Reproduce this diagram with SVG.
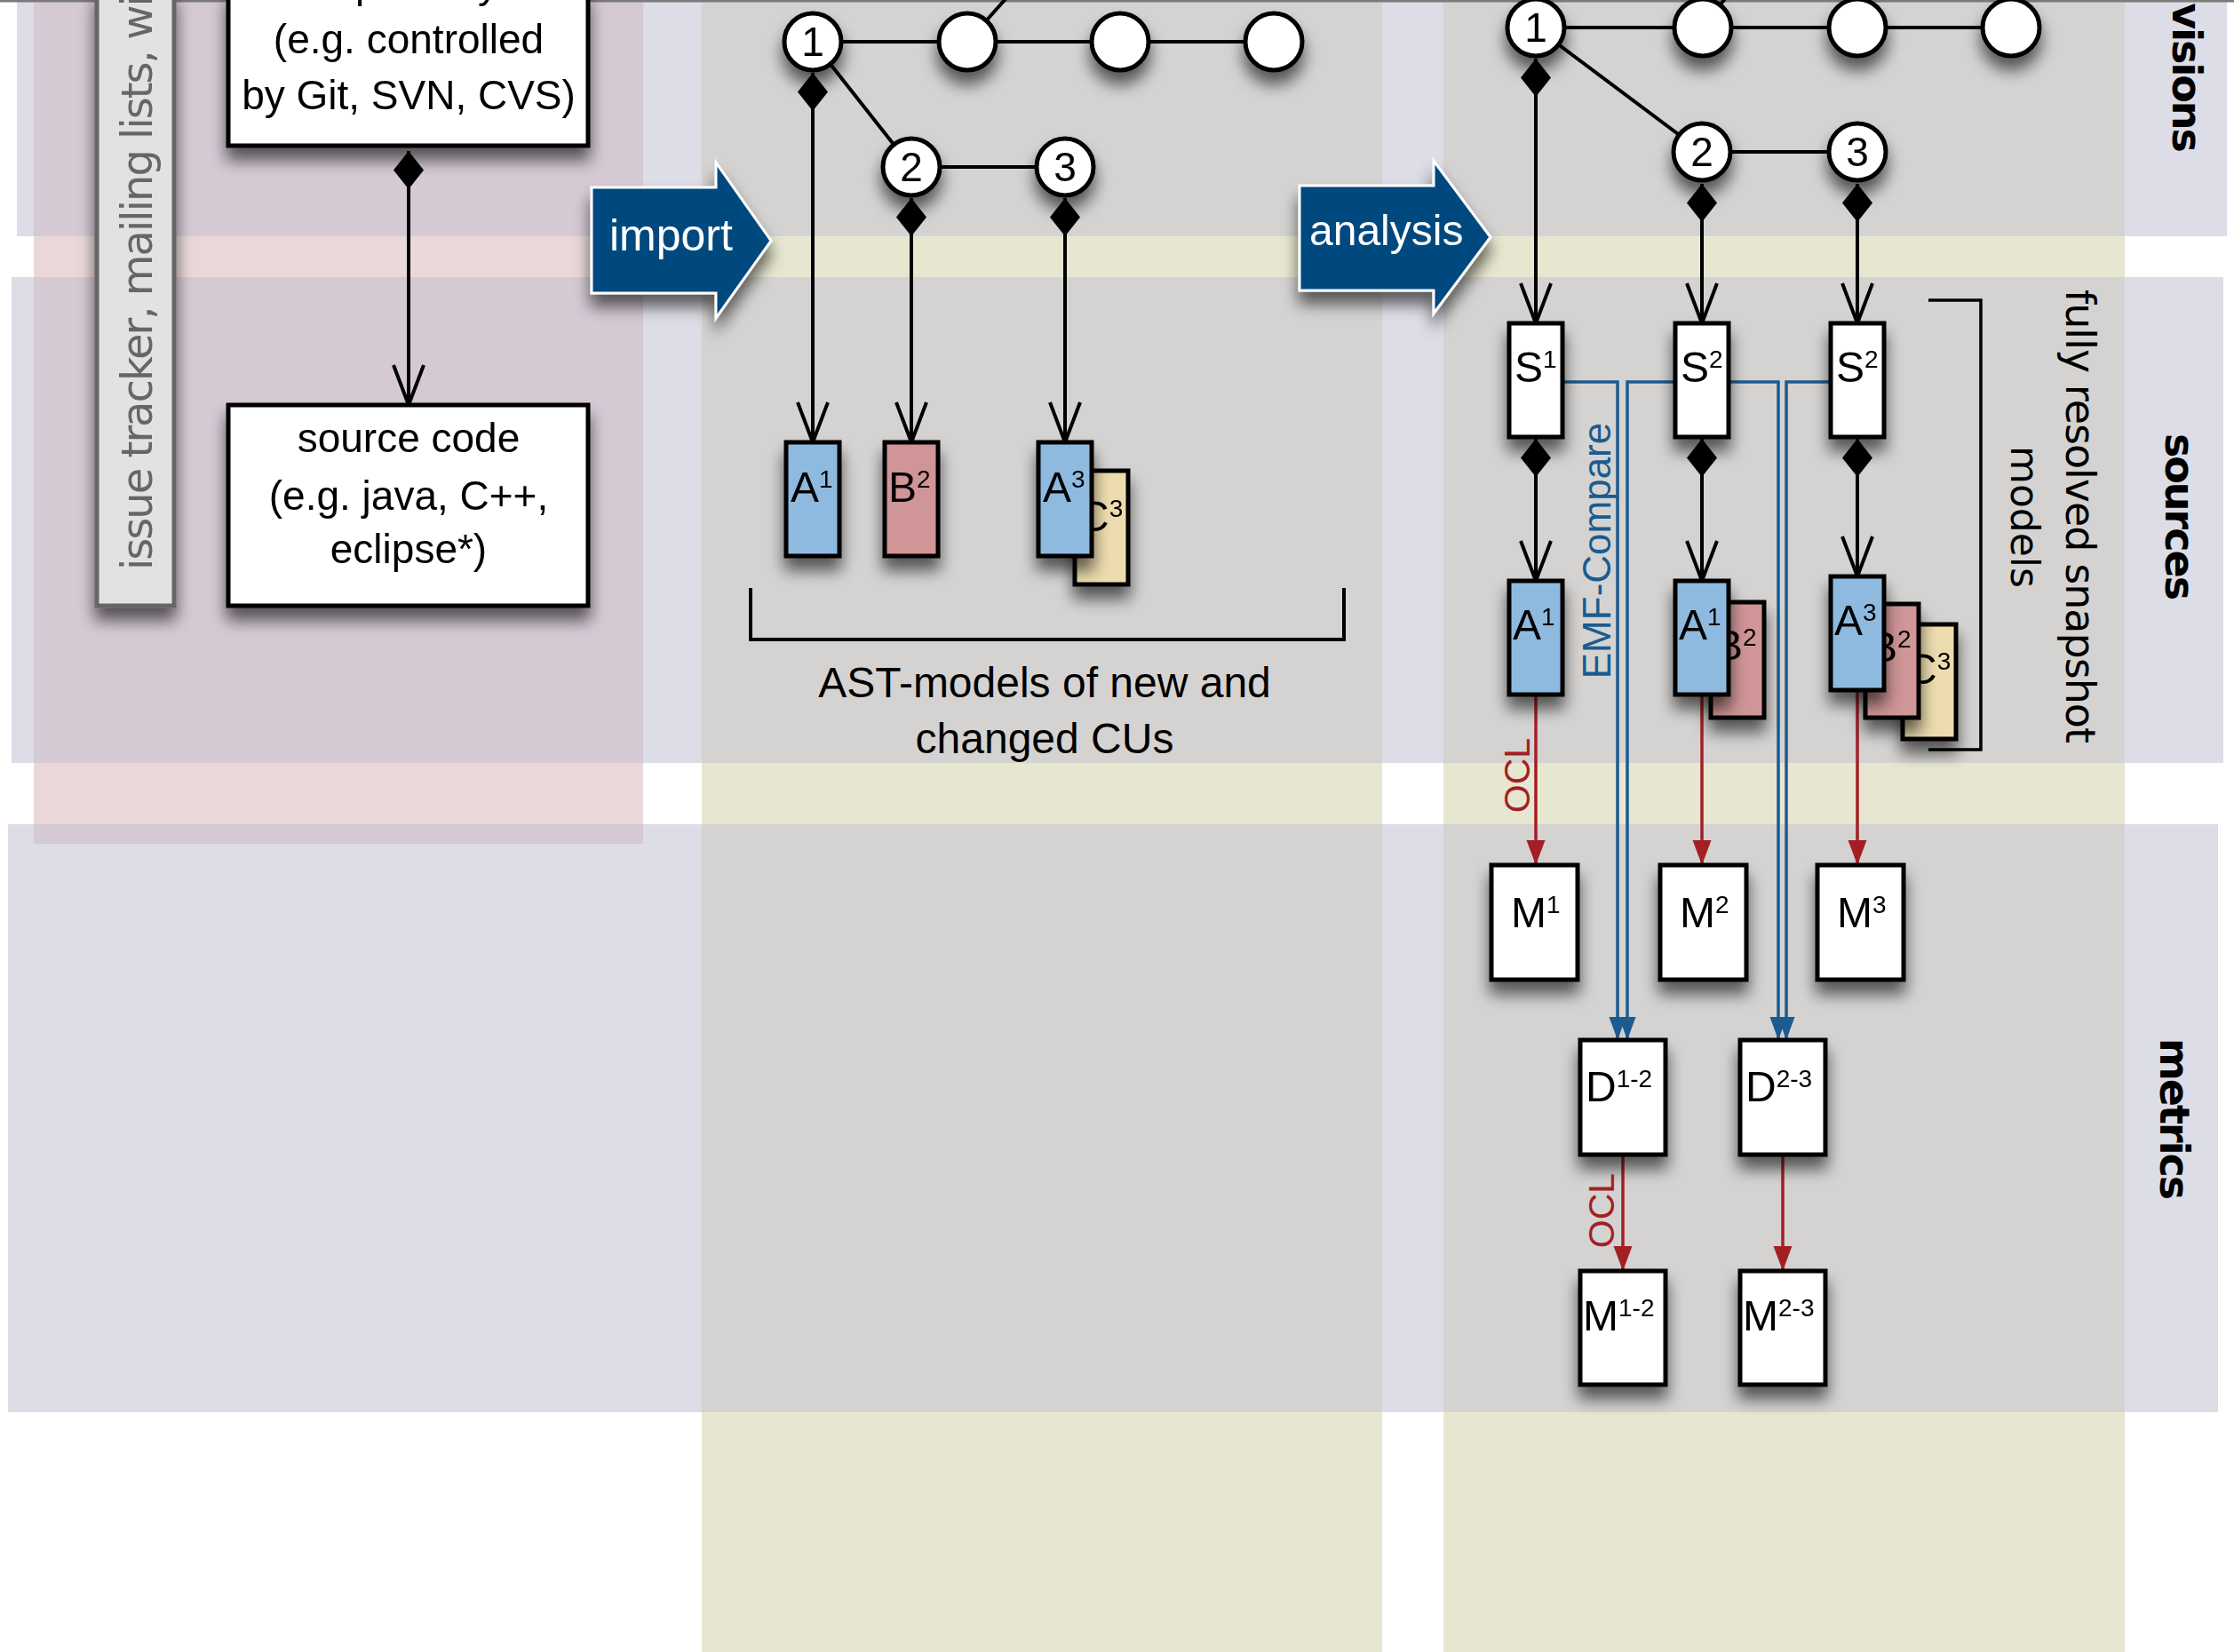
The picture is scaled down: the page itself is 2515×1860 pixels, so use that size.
<svg xmlns="http://www.w3.org/2000/svg" width="2515" height="1860" viewBox="0 0 2515 1860">
<style>
.sans{font-family:"Liberation Sans",Arial,sans-serif}
.dv{font-family:"DejaVu Sans",Verdana,sans-serif}
.box{fill:#fff;stroke:#000;stroke-width:5}
.ba{fill:#8fbadf;stroke:#000;stroke-width:5}
.bb{fill:#d09596;stroke:#000;stroke-width:5}
.bc{fill:#ecdcae;stroke:#000;stroke-width:5}
.circ{fill:#fff;stroke:#000;stroke-width:5}
.lt{font-family:"Liberation Sans",Arial,sans-serif;font-size:48px;fill:#000}
.sup{font-size:28px}
.num{font-family:"Liberation Sans",Arial,sans-serif;font-size:46px;text-anchor:middle}
.txt{font-family:"Liberation Sans",Arial,sans-serif;font-size:46px;text-anchor:middle}
.bl{stroke:#000;stroke-width:4;fill:none}
.comp{stroke:#000;stroke-width:4;fill:none;marker-start:url(#dia);marker-end:url(#open)}
.red{stroke:#a31f24;stroke-width:3.5;fill:none;marker-end:url(#redh)}
.emf{stroke:#1b5b8f;stroke-width:3.5;fill:none;marker-end:url(#blueh)}
.side{font-family:"DejaVu Sans",Verdana,sans-serif;font-weight:bold;font-size:46px;letter-spacing:-2px;fill:#000}
.sh{filter:url(#sh)}
</style>
<defs>
<filter id="sh" x="-60%" y="-40%" width="220%" height="200%">
<feGaussianBlur in="SourceAlpha" stdDeviation="9"/>
<feOffset dx="0" dy="14"/>
<feComponentTransfer><feFuncA type="linear" slope="0.6"/></feComponentTransfer>
<feMerge><feMergeNode/><feMergeNode in="SourceGraphic"/></feMerge>
</filter>
<marker id="dia" markerUnits="userSpaceOnUse" viewBox="0 -18 44 36" markerWidth="44" markerHeight="36" refX="0" refY="0" orient="auto">
<path d="M0,0 L21.5,-17 L43,0 L21.5,17 Z" fill="#000"/>
</marker>
<marker id="open" markerUnits="userSpaceOnUse" viewBox="-50 -22 54 44" markerWidth="54" markerHeight="44" refX="0" refY="0" orient="auto">
<path d="M-45,-17 L0,0 L-45,17" fill="none" stroke="#000" stroke-width="4"/>
</marker>
<marker id="redh" markerUnits="userSpaceOnUse" viewBox="-30 -12 32 24" markerWidth="32" markerHeight="24" refX="0" refY="0" orient="auto">
<path d="M-28,-10.5 L0,0 L-28,10.5 Z" fill="#a31f24"/>
</marker>
<marker id="blueh" markerUnits="userSpaceOnUse" viewBox="-28 -11 30 22" markerWidth="30" markerHeight="22" refX="0" refY="0" orient="auto">
<path d="M-26,-9.5 L0,0 L-26,9.5 Z" fill="#1b5b8f"/>
</marker>
</defs>

<g id="background">
<rect x="0" y="0" width="2515" height="1860" fill="#fff"/>
<rect x="19" y="0" width="2488" height="266" fill="#dcdde6"/>
<rect x="13" y="312" width="2490" height="547" fill="#dcdde6"/>
<rect x="9" y="928" width="2488" height="662" fill="#dcdde6"/>
<rect x="790" y="0" width="766" height="1860" fill="#e7e7d1"/>
<rect x="1625" y="0" width="767" height="1860" fill="#e7e7d1"/>
<rect x="790" y="0" width="766" height="266" fill="#d4d3d1"/>
<rect x="790" y="312" width="766" height="547" fill="#d4d3d1"/>
<rect x="790" y="928" width="766" height="662" fill="#d4d3d1"/>
<rect x="1625" y="0" width="767" height="266" fill="#d4d3d1"/>
<rect x="1625" y="312" width="767" height="547" fill="#d4d3d1"/>
<rect x="1625" y="928" width="767" height="662" fill="#d4d3d1"/>
<rect x="38" y="0" width="686" height="950" fill="#ead8d8"/>
<rect x="38" y="0" width="686" height="266" fill="#d5c9d4"/>
<rect x="38" y="312" width="686" height="547" fill="#d5c9d4"/>
<rect x="38" y="928" width="686" height="22" fill="#d5c9d4"/>
<line x1="0" y1="1" x2="2515" y2="1" stroke="#7a7a7a" stroke-width="3"/>
</g>

<g id="side-labels">
<text class="side" transform="translate(2446,170) rotate(90)" text-anchor="end">visions</text>
<text class="side" transform="translate(2438,581) rotate(90)" text-anchor="middle">sources</text>
<text class="side" transform="translate(2432,1259) rotate(90)" text-anchor="middle">metrics</text>
</g>

<g id="import" class="sh">
<path d="M666,211 H806 V183 L868,271 L806,358 V330 H666 Z" fill="#03497f" stroke="#fff" stroke-width="3"/>
<text class="sans" x="686" y="282" font-size="50" fill="#fff">import</text>
</g>
<g id="analysis" class="sh">
<path d="M1463,209 H1614 V181 L1678,267 L1614,353 V327 H1463 Z" fill="#03497f" stroke="#fff" stroke-width="3"/>
<text class="sans" x="1474" y="276" font-size="48" fill="#fff">analysis</text>
</g>

<g id="connectors">
<path class="comp" d="M460,170 V456"/>
<path class="bl" d="M915,47 H1434 M915,47 L1026,188 H1199 M1089,47 L1140,-10"/>
<path class="comp" d="M915,82 V498"/>
<path class="comp" d="M1026,223 V498"/>
<path class="comp" d="M1199,223 V498"/>
<path class="bl" d="M845,662 V720 H1513 V662"/>
<path class="bl" d="M1729,31 H2264 M1729,31 L1916,171 H2091 M1917,31 L1950,-12"/>
<path class="comp" d="M1729,66 V364"/>
<path class="comp" d="M1916,207 V364"/>
<path class="comp" d="M2091,207 V364"/>
<path class="comp" d="M1729,494 V654"/>
<path class="comp" d="M1916,494 V654"/>
<path class="comp" d="M2091,494 V649"/>
<path d="M2171,338 H2230 V844 H2171" fill="none" stroke="#000" stroke-width="3.5"/>
<path class="emf" d="M1759,430 H1821 V1171"/>
<path class="emf" d="M1886,430 H1832 V1171"/>
<path class="emf" d="M1946,430 H2002 V1171"/>
<path class="emf" d="M2061,430 H2011 V1171"/>
<path class="red" d="M1729,782 V974"/>
<path class="red" d="M1916,782 V974"/>
<path class="red" d="M2091,777 V974"/>
<path class="red" d="M1827,1300 V1431"/>
<path class="red" d="M2007,1300 V1431"/>
</g>

<g id="n-tracker" class="sh">
<rect x="109" y="-10" width="87" height="692" fill="#e2e2e2" stroke="#666" stroke-width="5"/>
<text class="dv" transform="translate(171,642) rotate(-90)" font-size="48" letter-spacing="-2" fill="#666">issue tracker, mailing lists, wi</text>
</g>
<g id="n-repository" class="sh">
<rect class="box" x="257" y="-10" width="405" height="174"/>
<text class="txt" x="460" y="-3">repository</text>
<text class="txt" x="460" y="60">(e.g. controlled</text>
<text class="txt" x="460" y="123">by Git, SVN, CVS)</text>
</g>
<g id="n-source" class="sh">
<rect class="box" x="257" y="456" width="405" height="226"/>
<text class="txt" x="460" y="509">source code</text>
<text class="txt" x="460" y="574">(e.g. java, C++,</text>
<text class="txt" x="460" y="634">eclipse*)</text>
</g>

<g id="i-rev1" class="sh"><circle class="circ" cx="915" cy="47" r="32"/><text class="num" x="915" y="63">1</text></g>
<g id="i-revb" class="sh"><circle class="circ" cx="1089" cy="47" r="32"/></g>
<g id="i-revc" class="sh"><circle class="circ" cx="1261" cy="47" r="32"/></g>
<g id="i-revd" class="sh"><circle class="circ" cx="1434" cy="47" r="32"/></g>
<g id="i-rev2" class="sh"><circle class="circ" cx="1026" cy="188" r="32"/><text class="num" x="1026" y="204">2</text></g>
<g id="i-rev3" class="sh"><circle class="circ" cx="1199" cy="188" r="32"/><text class="num" x="1199" y="204">3</text></g>

<g id="i-A1" class="sh"><rect class="ba" x="885" y="498" width="60" height="128"/><text class="lt" x="890" y="565">A<tspan class="sup" dy="-16">1</tspan></text></g>
<g id="i-B2" class="sh"><rect class="bb" x="996" y="498" width="60" height="128"/><text class="lt" x="1000" y="565">B<tspan class="sup" dy="-16">2</tspan></text></g>
<g id="i-C3" class="sh"><rect class="bc" x="1210" y="530" width="60" height="128"/><text class="lt" x="1214" y="598">C<tspan class="sup" dy="-16">3</tspan></text></g>
<g id="i-A3" class="sh"><rect class="ba" x="1169" y="498" width="60" height="128"/><text class="lt" x="1174" y="565">A<tspan class="sup" dy="-16">3</tspan></text></g>
<g id="ast-label">
<text class="sans" x="1176" y="785" font-size="48" text-anchor="middle">AST-models of new and</text>
<text class="sans" x="1176" y="848" font-size="48" text-anchor="middle">changed CUs</text>
</g>

<g id="a-rev1" class="sh"><circle class="circ" cx="1729" cy="31" r="32"/><text class="num" x="1729" y="47">1</text></g>
<g id="a-revb" class="sh"><circle class="circ" cx="1917" cy="31" r="32"/></g>
<g id="a-revc" class="sh"><circle class="circ" cx="2091" cy="31" r="32"/></g>
<g id="a-revd" class="sh"><circle class="circ" cx="2264" cy="31" r="32"/></g>
<g id="a-rev2" class="sh"><circle class="circ" cx="1916" cy="171" r="32"/><text class="num" x="1916" y="187">2</text></g>
<g id="a-rev3" class="sh"><circle class="circ" cx="2091" cy="171" r="32"/><text class="num" x="2091" y="187">3</text></g>

<g id="S1" class="sh"><rect class="box" x="1699" y="364" width="60" height="128"/><text class="lt" x="1705" y="430">S<tspan class="sup" dy="-16">1</tspan></text></g>
<g id="S2a" class="sh"><rect class="box" x="1886" y="364" width="60" height="128"/><text class="lt" x="1892" y="430">S<tspan class="sup" dy="-16">2</tspan></text></g>
<g id="S2b" class="sh"><rect class="box" x="2061" y="364" width="60" height="128"/><text class="lt" x="2067" y="430">S<tspan class="sup" dy="-16">2</tspan></text></g>

<g id="c1-A1" class="sh"><rect class="ba" x="1699" y="654" width="60" height="128"/><text class="lt" x="1703" y="720">A<tspan class="sup" dy="-16">1</tspan></text></g>
<g id="c2-B2" class="sh"><rect class="bb" x="1926" y="678" width="60" height="130"/><text class="lt" x="1930" y="743">B<tspan class="sup" dy="-16">2</tspan></text></g>
<g id="c2-A1" class="sh"><rect class="ba" x="1886" y="654" width="60" height="128"/><text class="lt" x="1890" y="720">A<tspan class="sup" dy="-16">1</tspan></text></g>
<g id="c3-C3" class="sh"><rect class="bc" x="2142" y="703" width="60" height="129"/><text class="lt" x="2146" y="770">C<tspan class="sup" dy="-16">3</tspan></text></g>
<g id="c3-B2" class="sh"><rect class="bb" x="2100" y="680" width="60" height="128"/><text class="lt" x="2104" y="745">B<tspan class="sup" dy="-16">2</tspan></text></g>
<g id="c3-A3" class="sh"><rect class="ba" x="2061" y="649" width="60" height="128"/><text class="lt" x="2065" y="715">A<tspan class="sup" dy="-16">3</tspan></text></g>

<g id="M1" class="sh"><rect class="box" x="1679" y="974" width="97" height="129"/><text class="lt" x="1701" y="1044">M<tspan class="sup" dy="-16">1</tspan></text></g>
<g id="M2" class="sh"><rect class="box" x="1869" y="974" width="97" height="129"/><text class="lt" x="1891" y="1044">M<tspan class="sup" dy="-16">2</tspan></text></g>
<g id="M3" class="sh"><rect class="box" x="2046" y="974" width="97" height="129"/><text class="lt" x="2068" y="1044">M<tspan class="sup" dy="-16">3</tspan></text></g>
<g id="D12" class="sh"><rect class="box" x="1779" y="1171" width="96" height="129"/><text class="lt" x="1785" y="1240">D<tspan class="sup" dy="-16">1-2</tspan></text></g>
<g id="D23" class="sh"><rect class="box" x="1959" y="1171" width="96" height="129"/><text class="lt" x="1965" y="1240">D<tspan class="sup" dy="-16">2-3</tspan></text></g>
<g id="M12" class="sh"><rect class="box" x="1779" y="1431" width="96" height="128"/><text class="lt" x="1782" y="1498">M<tspan class="sup" dy="-16">1-2</tspan></text></g>
<g id="M23" class="sh"><rect class="box" x="1959" y="1431" width="96" height="128"/><text class="lt" x="1962" y="1498">M<tspan class="sup" dy="-16">2-3</tspan></text></g>

<g id="labels">
<text class="sans" transform="translate(1813,620) rotate(-90)" font-size="44" text-anchor="middle" fill="#1b5b8f">EMF-Compare</text>
<text class="sans" transform="translate(1722,873) rotate(-90)" font-size="41" text-anchor="middle" fill="#a31f24">OCL</text>
<text class="sans" transform="translate(1817,1363) rotate(-90)" font-size="41" text-anchor="middle" fill="#a31f24">OCL</text>
<text class="dv" transform="translate(2326,581) rotate(90)" font-size="46" letter-spacing="-1" text-anchor="middle">fully resolved snapshot</text>
<text class="dv" transform="translate(2264,582) rotate(90)" font-size="44" text-anchor="middle">models</text>
</g>
</svg>
